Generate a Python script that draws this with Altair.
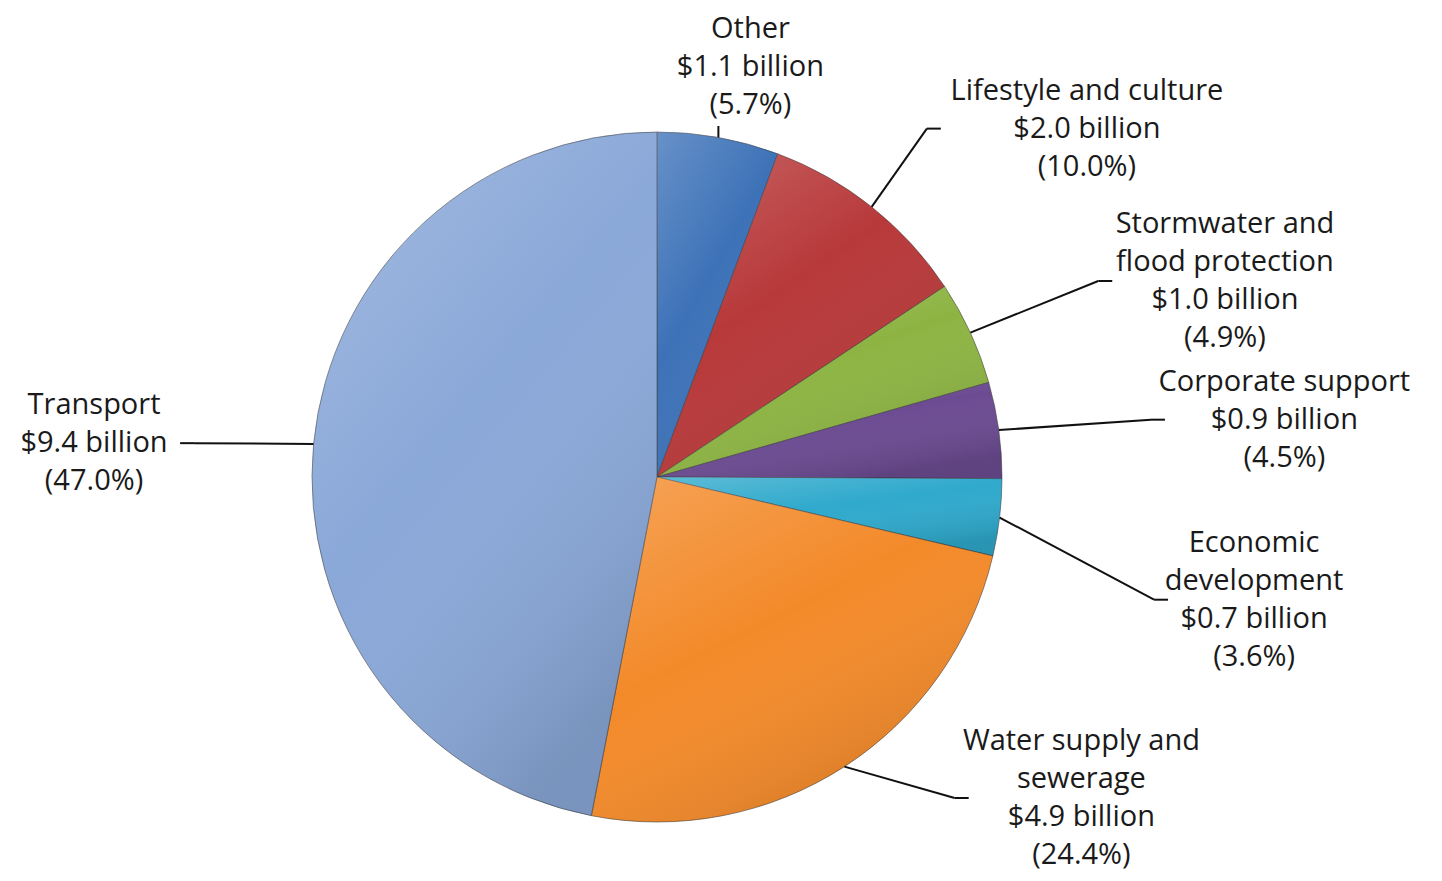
import altair as alt
import pandas as pd

# ---- data ----
names = ["Other", "Lifestyle and culture", "Stormwater and\nflood protection",
         "Corporate support", "Economic\ndevelopment", "Water supply and\nsewerage",
         "Transport"]
billions = [1.1, 2.0, 1.0, 0.9, 0.7, 4.9, 9.4]
percents = [5.7, 10.0, 4.9, 4.5, 3.6, 24.4, 47.0]
colors = ["#3d72b8", "#b8393a", "#8db443", "#6c4b92", "#2fa9cc", "#f38a2a", "#8aa8d8"]

# ---- layout ----
W, H = 1426, 866
CX, CY, R = 649, 469, 345
RX_LBL = 500            # horizontal reach of the leader lines
Y_SHIFT, Y_REACH, Y_POW = 38, 470, 0.8   # vertical spread of the label anchors
TAIL = 14
FS = 29
LH = 38
CHARW = 0.46 * FS
FONT = "Open Sans"

labels = [f"{n}\n${b:.1f} billion\n({p:.1f}%)" for n, b, p in zip(names, billions, percents)]
df = pd.DataFrame({
    "name": names,
    "billion": billions,
    "pct": percents,
    "order": list(range(len(names))),
    "label": labels,
    "nlines": [len(l.split("\n")) for l in labels],
    "maxlen": [max(len(s) for s in l.split("\n")) for l in labels],
})

base = alt.Chart(df)
color_scale = alt.Scale(domain=names, range=colors)

pie = base.mark_arc(radius=R, stroke="#3a3a3a", strokeWidth=1, strokeOpacity=0.55).encode(
    theta=alt.Theta("pct:Q", stack=True),
    order=alt.Order("order:Q"),
    color=alt.Color("name:N", scale=color_scale, legend=None, sort=names),
    x=alt.value(CX),
    y=alt.value(CY),
)

shade = base.mark_arc(
    radius=R,
    fill=alt.LinearGradient(
        gradient="linear", x1=0, y1=0, x2=0.6, y2=1,
        stops=[alt.GradientStop(color="rgba(255,255,255,0.22)", offset=0),
               alt.GradientStop(color="rgba(255,255,255,0.0)", offset=0.5),
               alt.GradientStop(color="rgba(0,0,0,0.12)", offset=1)],
    ),
).encode(
    theta=alt.Theta("pct:Q", stack=True),
    order=alt.Order("order:Q"),
    x=alt.value(CX),
    y=alt.value(CY),
)

geo = base.transform_window(
    cum="sum(pct)", sort=[alt.SortField("order")], frame=[None, 0]
).transform_joinaggregate(
    total="sum(pct)"
).transform_calculate(
    mid="(datum.cum - datum.pct/2)/datum.total*2*PI",
).transform_calculate(
    s="sin(datum.mid)",
    c="cos(datum.mid)",
).transform_calculate(
    side="datum.s >= 0 ? 1 : -1",
    csgn="datum.c >= 0 ? 1 : -1",
    qx="datum.c >= 0 ? 1.3 : 0.85",
    top="datum.c > 0 && abs(datum.s) < 0.3",
    half=f"datum.nlines*{LH}/2",
    w=f"datum.maxlen*{CHARW}",
    ex=f"{CX} + {R}*datum.s",
    ey=f"{CY} - {R}*datum.c",
).transform_calculate(
    bx=(f"datum.top ? datum.ex : (datum.side > 0 ? "
        f"{CX} + {RX_LBL}*pow(abs(datum.s), datum.qx) : "
        f"max({CX} - {RX_LBL}*pow(abs(datum.s), datum.qx), datum.w + {TAIL} + 12))"),
    by=(f"datum.top ? max(datum.ey - 12, 2*datum.half + 4) : "
        f"clamp({CY} + {Y_SHIFT} - {Y_REACH}*datum.csgn*pow(abs(datum.c), {Y_POW}), "
        f"datum.half + 4, {H} - datum.half)"),
).transform_calculate(
    tx=f"datum.top ? datum.bx : datum.bx + datum.side*{TAIL}",
    cy_block="datum.top ? datum.by - 2 - datum.half : datum.by",
).transform_calculate(
    textx=("datum.top ? datum.bx + datum.side*datum.w*0.2 : "
           "(datum.side > 0 ? datum.tx + 6 + datum.w/2 : datum.tx - 6 - datum.w/2)"),
    texty=f"datum.cy_block - (datum.nlines - 1)*{LH}/2",
)

lead1 = geo.mark_rule(color="#111111", strokeWidth=2).encode(
    x=alt.X("ex:Q", scale=None, axis=None),
    y=alt.Y("ey:Q", scale=None, axis=None),
    x2="bx:Q",
    y2="by:Q",
)
lead2 = geo.mark_rule(color="#111111", strokeWidth=2).encode(
    x=alt.X("bx:Q", scale=None, axis=None),
    y=alt.Y("by:Q", scale=None, axis=None),
    x2="tx:Q",
    y2="by:Q",
)

text = geo.mark_text(
    font=FONT, fontSize=FS, lineHeight=LH, lineBreak="\n",
    align="center", baseline="middle", color="#1a1a1a",
).encode(
    x=alt.X("textx:Q", scale=None, axis=None),
    y=alt.Y("texty:Q", scale=None, axis=None),
    text="label:N",
)

chart = alt.layer(pie, shade, lead1, lead2, text).properties(
    width=W, height=H, padding=0, background="white"
).configure_view(stroke=None)

chart.save("out.html", embed_options={"renderer": "svg", "actions": False})
